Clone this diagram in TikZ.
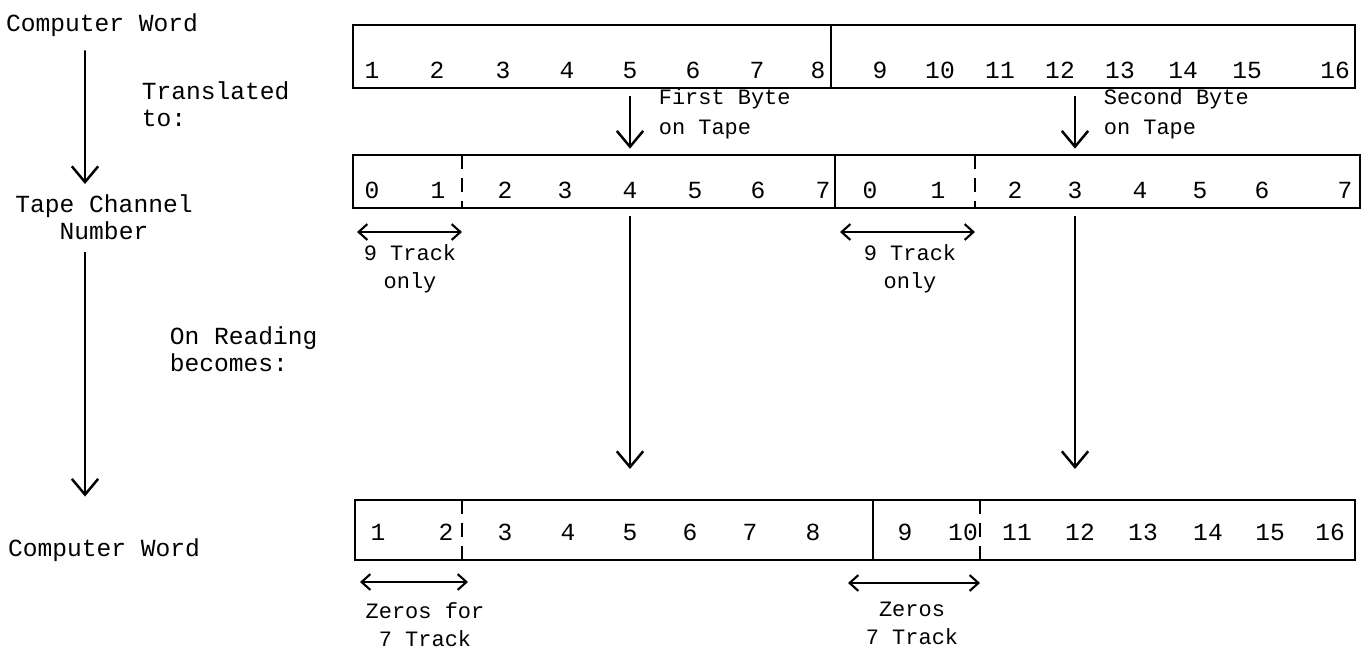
\documentclass[tikz,border=0pt]{standalone}
\usepackage{fontspec}
\setmonofont{Liberation Mono}
\usetikzlibrary{arrows.meta,positioning}

\begin{document}
\begin{tikzpicture}[x=0.02cm,y=-0.02cm,
    font=\ttfamily\fontsize{12.5}{17}\selectfont,
    line width=1.1pt,
    >={Straight Barb[length=9pt,width=15pt,line width=1.4pt]},
    word/.style={draw,line width=1.3pt,inner sep=0pt},
    bit/.style={inner sep=1pt,anchor=base,font=\ttfamily\fontsize{14}{16}\selectfont},
    lbl/.style={font=\ttfamily\fontsize{14}{15.5}\selectfont,align=center},
    note/.style={anchor=north west,align=left},
    lnote/.style={note,font=\ttfamily\fontsize{14}{15.5}\selectfont},
    halfsplit/.style={dash pattern=on 8pt off 5pt},
    span/.style={<->,>={Straight Barb[length=5pt,width=9pt,line width=1.2pt]}},
    spanlbl/.style={align=center,font=\ttfamily\fontsize{12.5}{16}\selectfont}]
  \useasboundingbox (0,0) rectangle (1370,664);

  % left column
  \node[lbl] (cw) at (102,25) {Computer Word};
  \node[lbl] (tcn) at (104,217) {Tape Channel\\Number};
  \node[lbl] (cw3) at (104,550) {Computer Word};
  \node[lnote] (tr) at (135,75) {Translated\\to:};
  \node[lnote] (rd) at (163,320) {On Reading\\becomes:};
  \draw[->,shorten <=4pt,shorten >=2pt] ([xshift=-0.34cm]cw.south) -- ([xshift=-0.38cm]tcn.north);
  \draw[->,shorten <=3pt,shorten >=20pt] ([xshift=-0.38cm]tcn.south) -- ([xshift=-0.38cm]cw3.north);

  % the three words
  \node[word,minimum width=20.04cm,minimum height=1.26cm] (cw1) at (854,56.5) {};
  \node[word,minimum width=20.14cm,minimum height=1.06cm] (tape) at (856.5,181.5) {};
  \node[word,minimum width=20cm,minimum height=1.2cm] (cw2) at (855,530) {};

  \foreach \x/\n in {372/1,437/2,503/3,567/4,630/5,693/6,757/7,818/8,
      880/9,940/10,1000/11,1060/12,1120/13,1183/14,1247/15,1335/16}
    \node[bit] (a\n) at (\x,78) {\n};
  \foreach \x/\n [count=\i] in {372/0,438/1,505/2,565/3,630/4,695/5,758/6,823/7,
      870/0,938/1,1015/2,1075/3,1140/4,1200/5,1262/6,1345/7}
    \node[bit] (b\i) at (\x,198) {\n};
  \foreach \x/\n in {378/1,446/2,505/3,568/4,630/5,690/6,750/7,813/8,
      905/9,963/10,1017/11,1080/12,1143/13,1208/14,1270/15,1330/16}
    \node[bit] (c\n) at (\x,540) {\n};

  % byte and track splits
  \coordinate (s1) at (831,25);
  \coordinate (s2) at (835,155);
  \coordinate (t1) at (462,155);
  \coordinate (t2) at (975,155);
  \coordinate (s3) at (873,500);
  \coordinate (u1) at (462,500);
  \coordinate (u2) at (980,500);
  \draw (s1) -- (s1 |- cw1.south);
  \draw (s2) -- (s2 |- tape.south);
  \draw[halfsplit] (t1) -- (t1 |- tape.south);
  \draw[halfsplit] (t2) -- (t2 |- tape.south);
  \draw (s3) -- (s3 |- cw2.south);
  \draw[halfsplit] (u1) -- (u1 |- cw2.south);
  \draw[halfsplit] (u2) -- (u2 |- cw2.south);

  % bytes going down
  \draw[->,shorten <=4pt,shorten >=3pt] (b5 |- cw1.south) -- (b5 |- tape.north);
  \draw[->,shorten <=4pt,shorten >=3pt] (b12 |- cw1.south) -- (b12 |- tape.north);
  \draw[->,shorten <=4pt,shorten >=17pt] (b5 |- tape.south) -- (b5 |- cw2.north);
  \draw[->,shorten <=4pt,shorten >=17pt] (b12 |- tape.south) -- (b12 |- cw2.north);
  \node[note] (fb) at (652,82) {First Byte\\on Tape};
  \node[note] (sb) at (1097,82) {Second Byte\\on Tape};

  % track spans
  \coordinate (p1) at (357,232);
  \coordinate (p2) at (t1 |- p1);
  \coordinate (p3) at (840,232);
  \coordinate (p4) at (t2 |- p3);
  \coordinate (q1) at (360,582);
  \coordinate (q2) at (468,582);
  \coordinate (q3) at (848,583);
  \coordinate (q4) at (u2 |- q3);
  \draw[span] (p1) -- (p2);
  \draw[span] (p3) -- (p4);
  \draw[span] (q1) -- (q2);
  \draw[span] (q3) -- (q4);
  \node[spanlbl] (n1) at (410,269) {9 Track\\only};
  \node[spanlbl] (n2) at (910,269) {9 Track\\only};
  \node[spanlbl] (n3) at (425,625) {Zeros for\\7 Track};
  \node[spanlbl] (n4) at (912,623) {Zeros\\7 Track};
\end{tikzpicture}
\end{document}
